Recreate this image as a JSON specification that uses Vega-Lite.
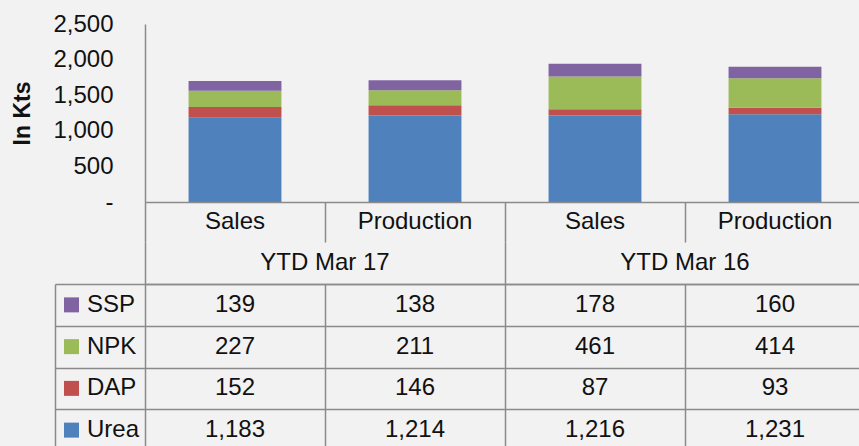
{
  "$schema": "https://vega.github.io/schema/vega-lite/v6.json",
  "background": "#f2f2f2",
  "padding": {"left": 11, "top": 12, "right": 0, "bottom": 0},
  "config": {
    "view": {"stroke": null},
    "font": "Liberation Sans",
    "axis": {"labelFont": "Liberation Sans", "titleFont": "Liberation Sans", "gridColor": "#8a8a8a", "gridWidth": 1.5, "gridOpacity": 1, "domainColor": "#8a8a8a", "domainWidth": 1.5}
  },
  "datasets": {
    "fert": [
      {"col": "Sales 17", "cat": "Sales", "grp": "YTD Mar 17", "series": "Urea", "k": 1, "value": 1183},
      {"col": "Sales 17", "cat": "Sales", "grp": "YTD Mar 17", "series": "DAP", "k": 2, "value": 152},
      {"col": "Sales 17", "cat": "Sales", "grp": "YTD Mar 17", "series": "NPK", "k": 3, "value": 227},
      {"col": "Sales 17", "cat": "Sales", "grp": "YTD Mar 17", "series": "SSP", "k": 4, "value": 139},
      {"col": "Production 17", "cat": "Production", "grp": "YTD Mar 17", "series": "Urea", "k": 1, "value": 1214},
      {"col": "Production 17", "cat": "Production", "grp": "YTD Mar 17", "series": "DAP", "k": 2, "value": 146},
      {"col": "Production 17", "cat": "Production", "grp": "YTD Mar 17", "series": "NPK", "k": 3, "value": 211},
      {"col": "Production 17", "cat": "Production", "grp": "YTD Mar 17", "series": "SSP", "k": 4, "value": 138},
      {"col": "Sales 16", "cat": "Sales", "grp": "YTD Mar 16", "series": "Urea", "k": 1, "value": 1216},
      {"col": "Sales 16", "cat": "Sales", "grp": "YTD Mar 16", "series": "DAP", "k": 2, "value": 87},
      {"col": "Sales 16", "cat": "Sales", "grp": "YTD Mar 16", "series": "NPK", "k": 3, "value": 461},
      {"col": "Sales 16", "cat": "Sales", "grp": "YTD Mar 16", "series": "SSP", "k": 4, "value": 178},
      {"col": "Production 16", "cat": "Production", "grp": "YTD Mar 16", "series": "Urea", "k": 1, "value": 1231},
      {"col": "Production 16", "cat": "Production", "grp": "YTD Mar 16", "series": "DAP", "k": 2, "value": 93},
      {"col": "Production 16", "cat": "Production", "grp": "YTD Mar 16", "series": "NPK", "k": 3, "value": 414},
      {"col": "Production 16", "cat": "Production", "grp": "YTD Mar 16", "series": "SSP", "k": 4, "value": 160}
    ]
  },
  "columns": 2,
  "spacing": 0,
  "bounds": "flush",
  "resolve": {"scale": {"x": "independent", "y": "independent", "color": "independent"}},
  "concat": [
    {
      "width": 90, "height": 178,
      "data": {"values": [{}]},
      "mark": {"type": "text"},
      "encoding": {"text": {"value": ""}}
    },
    {
      "width": 720, "height": 178,
      "data": {"name": "fert"},
      "mark": {"type": "bar", "width": {"band": 0.516}},
      "encoding": {
        "x": {"field": "col", "type": "nominal", "sort": ["Sales 17", "Production 17", "Sales 16", "Production 16"], "scale": {"paddingInner": 0, "paddingOuter": 0}, "axis": null},
        "y": {"field": "value", "type": "quantitative", "aggregate": "sum", "stack": "zero",
          "scale": {"domain": [0, 2500], "nice": false},
          "axis": {"title": "In Kts", "titleFontSize": 23, "titleFontWeight": "bold", "titleColor": "#111111", "titlePadding": 18,
            "values": [0, 500, 1000, 1500, 2000, 2500],
            "labelExpr": "datum.value == 0 ? '-' : format(datum.value, ',')",
            "labelFontSize": 24, "labelColor": "#111111", "labelPadding": 32, "ticks": false, "grid": false}},
        "color": {"field": "series", "type": "nominal", "scale": {"domain": ["Urea", "DAP", "NPK", "SSP"], "range": ["#4f81bd", "#c0504d", "#9bbb59", "#8064a2"]}, "legend": null},
        "order": {"field": "k", "type": "quantitative", "sort": "ascending"}
      }
    },
    {
      "width": 90, "height": 40,
      "data": {"values": [{}]},
      "mark": {"type": "text"},
      "encoding": {"text": {"value": ""}}
    },
    {
      "width": 720, "height": 40,
      "data": {"name": "fert"},
      "transform": [{"filter": "datum.series == 'Urea'"}],
      "mark": {"type": "text", "fontSize": 24, "color": "#111111", "baseline": "middle"},
      "encoding": {
        "x": {"field": "col", "type": "nominal", "sort": ["Sales 17", "Production 17", "Sales 16", "Production 16"], "scale": {"paddingInner": 0, "paddingOuter": 0},
          "axis": {"orient": "top", "title": null, "labels": false, "ticks": false, "domain": true, "grid": true, "tickBand": "extent"}},
        "text": {"field": "cat"}
      }
    },
    {
      "width": 90, "height": 42,
      "data": {"values": [{}]},
      "mark": {"type": "text"},
      "encoding": {"text": {"value": ""}}
    },
    {
      "width": 720, "height": 42,
      "data": {"name": "fert"},
      "transform": [{"filter": "datum.series == 'Urea' && datum.cat == 'Sales'"}],
      "mark": {"type": "text", "fontSize": 24, "color": "#111111", "baseline": "middle"},
      "encoding": {
        "x": {"field": "grp", "type": "nominal", "sort": ["YTD Mar 17", "YTD Mar 16"], "scale": {"paddingInner": 0, "paddingOuter": 0},
          "axis": {"orient": "bottom", "title": null, "labels": false, "ticks": false, "domain": true, "grid": true, "tickBand": "extent"}},
        "text": {"field": "grp"}
      }
    },
    {
      "width": 90, "height": 167,
      "data": {"name": "fert"},
      "transform": [{"filter": "datum.cat == 'Sales' && datum.grp == 'YTD Mar 17'"}],
      "encoding": {
        "y": {"field": "series", "type": "nominal", "sort": ["SSP", "NPK", "DAP", "Urea"], "scale": {"paddingInner": 0, "paddingOuter": 0},
          "axis": {"orient": "left", "title": null, "labels": false, "ticks": false, "domain": true, "grid": true, "tickBand": "extent"}}
      },
      "layer": [
        {
          "mark": {"type": "point", "shape": "square", "filled": true, "size": 225, "opacity": 1, "xOffset": -28.5},
          "encoding": {
            "color": {"field": "series", "type": "nominal", "scale": {"domain": ["Urea", "DAP", "NPK", "SSP"], "range": ["#4f81bd", "#c0504d", "#9bbb59", "#8064a2"]}, "legend": null}
          }
        },
        {
          "mark": {"type": "text", "fontSize": 24, "color": "#111111", "align": "left", "baseline": "middle", "dx": -13},
          "encoding": {"text": {"field": "series"}}
        }
      ]
    },
    {
      "width": 720, "height": 167,
      "data": {"name": "fert"},
      "mark": {"type": "text", "fontSize": 24, "color": "#111111", "baseline": "middle"},
      "encoding": {
        "x": {"field": "col", "type": "nominal", "sort": ["Sales 17", "Production 17", "Sales 16", "Production 16"], "scale": {"paddingInner": 0, "paddingOuter": 0},
          "axis": {"orient": "top", "title": null, "labels": false, "ticks": false, "domain": false, "grid": true, "tickBand": "extent"}},
        "y": {"field": "series", "type": "nominal", "sort": ["SSP", "NPK", "DAP", "Urea"], "scale": {"paddingInner": 0, "paddingOuter": 0},
          "axis": {"orient": "left", "title": null, "labels": false, "ticks": false, "domain": false, "grid": true, "tickBand": "extent"}},
        "text": {"field": "value", "type": "quantitative", "format": ","}
      }
    }
  ]
}
